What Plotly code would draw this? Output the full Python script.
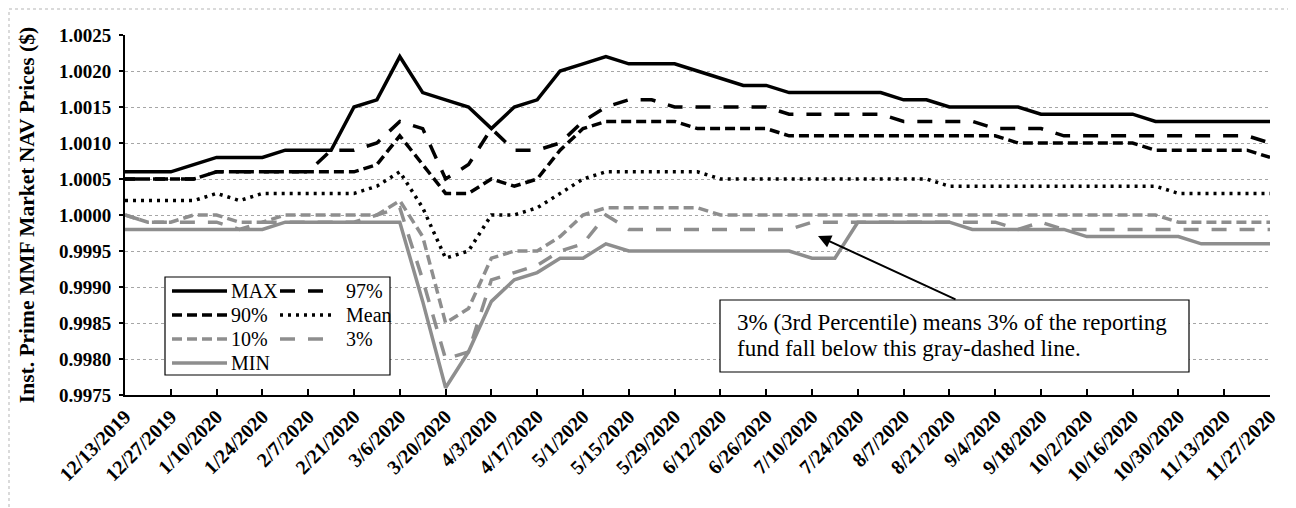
import plotly.graph_objects as go

# weekly reporting dates
weeks = [
    "2019-12-13", "2019-12-20", "2019-12-27", "2020-01-03", "2020-01-10", "2020-01-17",
    "2020-01-24", "2020-01-31", "2020-02-07", "2020-02-14", "2020-02-21", "2020-02-28",
    "2020-03-06", "2020-03-13", "2020-03-20", "2020-03-27", "2020-04-03", "2020-04-10",
    "2020-04-17", "2020-04-24", "2020-05-01", "2020-05-08", "2020-05-15", "2020-05-22",
    "2020-05-29", "2020-06-05", "2020-06-12", "2020-06-19", "2020-06-26", "2020-07-03",
    "2020-07-10", "2020-07-17", "2020-07-24", "2020-07-31", "2020-08-07", "2020-08-14",
    "2020-08-21", "2020-08-28", "2020-09-04", "2020-09-11", "2020-09-18", "2020-09-25",
    "2020-10-02", "2020-10-09", "2020-10-16", "2020-10-23", "2020-10-30", "2020-11-06",
    "2020-11-13", "2020-11-20", "2020-11-27",
]
tick_labels = [
    "12/13/2019", "12/27/2019", "1/10/2020", "1/24/2020", "2/7/2020", "2/21/2020",
    "3/6/2020", "3/20/2020", "4/3/2020", "4/17/2020", "5/1/2020", "5/15/2020",
    "5/29/2020", "6/12/2020", "6/26/2020", "7/10/2020", "7/24/2020", "8/7/2020",
    "8/21/2020", "9/4/2020", "9/18/2020", "10/2/2020", "10/16/2020", "10/30/2020",
    "11/13/2020", "11/27/2020",
]

max_nav = [1.0006, 1.0006, 1.0006, 1.0007, 1.0008, 1.0008, 1.0008, 1.0009, 1.0009, 1.0009,
           1.0015, 1.0016, 1.0022, 1.0017, 1.0016, 1.0015, 1.0012, 1.0015, 1.0016, 1.0020,
           1.0021, 1.0022, 1.0021, 1.0021, 1.0021, 1.0020, 1.0019, 1.0018, 1.0018, 1.0017,
           1.0017, 1.0017, 1.0017, 1.0017, 1.0016, 1.0016, 1.0015, 1.0015, 1.0015, 1.0015,
           1.0014, 1.0014, 1.0014, 1.0014, 1.0014, 1.0013, 1.0013, 1.0013, 1.0013, 1.0013,
           1.0013]
p97 = [1.0005, 1.0005, 1.0005, 1.0005, 1.0006, 1.0006, 1.0006, 1.0006, 1.0006, 1.0009,
       1.0009, 1.0010, 1.0013, 1.0012, 1.0005, 1.0007, 1.0012, 1.0009, 1.0009, 1.0010,
       1.0013, 1.0015, 1.0016, 1.0016, 1.0015, 1.0015, 1.0015, 1.0015, 1.0015, 1.0014,
       1.0014, 1.0014, 1.0014, 1.0014, 1.0013, 1.0013, 1.0013, 1.0013, 1.0012, 1.0012,
       1.0012, 1.0011, 1.0011, 1.0011, 1.0011, 1.0011, 1.0011, 1.0011, 1.0011, 1.0011,
       1.0010]
p90 = [1.0005, 1.0005, 1.0005, 1.0005, 1.0006, 1.0006, 1.0006, 1.0006, 1.0006, 1.0006,
       1.0006, 1.0007, 1.0011, 1.0007, 1.0003, 1.0003, 1.0005, 1.0004, 1.0005, 1.0009,
       1.0012, 1.0013, 1.0013, 1.0013, 1.0013, 1.0012, 1.0012, 1.0012, 1.0012, 1.0011,
       1.0011, 1.0011, 1.0011, 1.0011, 1.0011, 1.0011, 1.0011, 1.0011, 1.0011, 1.0010,
       1.0010, 1.0010, 1.0010, 1.0010, 1.0010, 1.0009, 1.0009, 1.0009, 1.0009, 1.0009,
       1.0008]
mean_nav = [1.0002, 1.0002, 1.0002, 1.0002, 1.0003, 1.0002, 1.0003, 1.0003, 1.0003, 1.0003,
            1.0003, 1.0004, 1.0006, 1.0001, 0.9994, 0.9995, 1.0000, 1.0000, 1.0001, 1.0003,
            1.0005, 1.0006, 1.0006, 1.0006, 1.0006, 1.0006, 1.0005, 1.0005, 1.0005, 1.0005,
            1.0005, 1.0005, 1.0005, 1.0005, 1.0005, 1.0005, 1.0004, 1.0004, 1.0004, 1.0004,
            1.0004, 1.0004, 1.0004, 1.0004, 1.0004, 1.0004, 1.0003, 1.0003, 1.0003, 1.0003,
            1.0003]
p10 = [1.0000, 0.9999, 0.9999, 1.0000, 1.0000, 0.9999, 0.9999, 1.0000, 1.0000, 1.0000,
       1.0000, 1.0000, 1.0002, 0.9997, 0.9985, 0.9987, 0.9994, 0.9995, 0.9995, 0.9997,
       1.0000, 1.0001, 1.0001, 1.0001, 1.0001, 1.0001, 1.0000, 1.0000, 1.0000, 1.0000,
       1.0000, 1.0000, 1.0000, 1.0000, 1.0000, 1.0000, 1.0000, 1.0000, 1.0000, 1.0000,
       1.0000, 1.0000, 1.0000, 1.0000, 1.0000, 1.0000, 0.9999, 0.9999, 0.9999, 0.9999,
       0.9999]
p3 = [1.0000, 0.9999, 0.9999, 0.9999, 0.9999, 0.9998, 0.9999, 0.9999, 0.9999, 0.9999,
      0.9999, 1.0000, 1.0001, 0.9991, 0.9980, 0.9981, 0.9991, 0.9992, 0.9993, 0.9995,
      0.9996, 1.0000, 0.9998, 0.9998, 0.9998, 0.9998, 0.9998, 0.9998, 0.9998, 0.9998,
      0.9999, 0.9999, 0.9999, 0.9999, 0.9999, 0.9999, 0.9999, 0.9999, 0.9999, 0.9998,
      0.9999, 0.9998, 0.9998, 0.9998, 0.9998, 0.9998, 0.9998, 0.9998, 0.9998, 0.9998,
      0.9998]
min_nav = [0.9998, 0.9998, 0.9998, 0.9998, 0.9998, 0.9998, 0.9998, 0.9999, 0.9999, 0.9999,
           0.9999, 0.9999, 0.9999, 0.9988, 0.9976, 0.9981, 0.9988, 0.9991, 0.9992, 0.9994,
           0.9994, 0.9996, 0.9995, 0.9995, 0.9995, 0.9995, 0.9995, 0.9995, 0.9995, 0.9995,
           0.9994, 0.9994, 0.9999, 0.9999, 0.9999, 0.9999, 0.9999, 0.9998, 0.9998, 0.9998,
           0.9998, 0.9998, 0.9997, 0.9997, 0.9997, 0.9997, 0.9997, 0.9996, 0.9996, 0.9996,
           0.9996]

note_lines = ["3% (3rd Percentile) means 3% of the reporting",
              "fund fall below this gray-dashed line."]

SERIF = "Liberation Serif, Times New Roman, serif"
GRAY = "#8e8e8e"
LONG = "15px,13px"
SHORT = "10px,5px"

# plot box on screen: x 125..1270, y 35..395
def px(x):
    return (x - 125) / 1145


def py(y):
    return (395 - y) / 360


fig = go.Figure()

series = [
    # name, values, color, dash, legend column, legend row
    ("MIN", min_nav, GRAY, "solid", 0, 3),
    ("3%", p3, GRAY, LONG, 1, 2),
    ("10%", p10, GRAY, SHORT, 0, 2),
    ("Mean", mean_nav, "black", "3px,5px", 1, 1),
    ("90%", p90, "black", SHORT, 0, 1),
    ("97%", p97, "black", LONG, 1, 0),
    ("MAX", max_nav, "black", "solid", 0, 0),
]

shapes = [
    # outer frame
    dict(type="rect", xref="paper", yref="paper",
         x0=px(9), x1=px(1292), y0=py(530), y1=py(9),
         line=dict(color="#b5b5b5", width=1, dash="dot")),
    # legend box
    dict(type="rect", xref="paper", yref="paper",
         x0=px(165), x1=px(390), y0=py(375), y1=py(277),
         line=dict(color="black", width=1.2), fillcolor="white", layer="above"),
    # note box
    dict(type="rect", xref="paper", yref="paper",
         x0=px(720), x1=px(1189), y0=py(372), y1=py(300),
         line=dict(color="black", width=1.2), fillcolor="white", layer="above"),
]
annotations = []

row_y = [291, 315, 339, 363]
col_line = [(172, 227), (280, 333)]
col_text = [229, 344]

for name, vals, color, dash, col, row in series:
    fig.add_trace(go.Scatter(
        x=weeks, y=vals, name=name, mode="lines",
        line=dict(color=color, width=3.5, dash=dash),
        showlegend=False,
    ))
    x0, x1 = col_line[col]
    shapes.append(dict(type="line", xref="paper", yref="paper", layer="above",
                       x0=px(x0), x1=px(x1), y0=py(row_y[row]), y1=py(row_y[row]),
                       line=dict(color=color, width=3.5, dash=dash)))
    annotations.append(dict(xref="paper", yref="paper", x=px(col_text[col]),
                            y=py(row_y[row]), xanchor="left", yanchor="middle",
                            showarrow=False, text=name,
                            font=dict(family=SERIF, size=20, color="black")))

annotations += [
    dict(xref="paper", yref="paper", x=px(735), y=py(322),
         xanchor="left", yanchor="middle", align="left", showarrow=False,
         text=note_lines[0], font=dict(family=SERIF, size=23, color="black")),
    dict(xref="paper", yref="paper", x=px(735), y=py(348),
         xanchor="left", yanchor="middle", align="left", showarrow=False,
         text=note_lines[1], font=dict(family=SERIF, size=23, color="black")),
    dict(xref="paper", yref="paper", x=px(818), y=py(236), text="",
         showarrow=True, ax=139, ay=64, arrowhead=2, arrowsize=1.3,
         arrowwidth=2, arrowcolor="black"),
]

# page body adds an 8px offset, so the plot box sits at 117..1262 x 27..387
fig.update_layout(
    width=1288, height=500,
    margin=dict(l=117, r=26, t=27, b=113),
    paper_bgcolor="white", plot_bgcolor="white",
    showlegend=False,
    xaxis=dict(
        type="date",
        range=[weeks[0], weeks[-1]],
        tickvals=weeks[::2], ticktext=tick_labels,
        tickangle=-45,
        tickfont=dict(family=SERIF, size=20, color="black", weight="bold"),
        ticks="inside", ticklen=6, tickwidth=1.5, tickcolor="black",
        showline=True, linecolor="black", linewidth=2,
        showgrid=False, zeroline=False,
    ),
    yaxis=dict(
        range=[0.9975, 1.0025], dtick=0.0005, tick0=0.9975, tickformat=".4f",
        tickfont=dict(family=SERIF, size=19, color="black", weight="bold"),
        ticks="outside", ticklen=4, tickwidth=1.5, tickcolor="black",
        ticklabelstandoff=4,
        showline=True, linecolor="black", linewidth=2,
        showgrid=True, gridcolor="#a6a6a6", griddash="dot", gridwidth=1,
        zeroline=False,
        title=dict(text="Inst. Prime MMF Market NAV Prices ($)",
                   font=dict(family=SERIF, size=21.5, color="black", weight="bold"),
                   standoff=18),
    ),
    shapes=shapes,
    annotations=annotations,
)

fig.write_html("out.html")
